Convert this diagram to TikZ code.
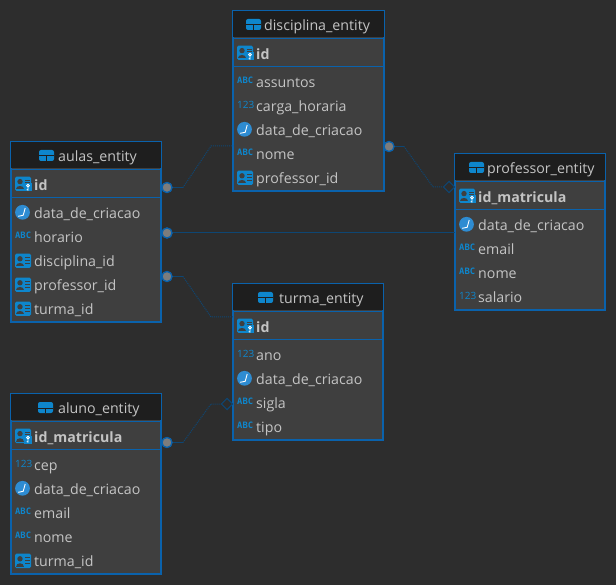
\documentclass[tikz,border=0pt]{standalone}
\usepackage{fontspec}
\setmainfont{Open Sans}
\newfontfamily\iconfont{DejaVu Sans Mono}
\usetikzlibrary{shapes.geometric,calc}
\definecolor{bgc}{HTML}{2D2D2D}
\definecolor{bodyc}{HTML}{3F3F3F}
\definecolor{headc}{HTML}{1E1E1E}
\definecolor{edgec}{HTML}{0A62AC}
\definecolor{linec}{HTML}{0E4673}
\definecolor{txtc}{HTML}{C4C4C4}
\definecolor{iconc}{HTML}{0E86CC}
\definecolor{clockc}{HTML}{2E8CD2}
\definecolor{dotc}{HTML}{7C7C7C}
\newcommand{\fontrow}{\fontsize{14.2}{16}\selectfont}
\tikzset{
  x=1pt,y=-1pt,
  entity/.style={draw=edgec,line width=2pt,fill=bodyc,anchor=north west,inner sep=0pt,outer sep=0pt},
  headbar/.style={fill=headc,anchor=north west,inner sep=0pt,outer sep=0pt},
  sepline/.style={edgec,line width=0.7pt},
  title/.style={text=txtc,font=\fontrow,anchor=base west,inner sep=0pt},
  fieldtext/.style={text=txtc,font=\fontrow,anchor=base west,inner sep=0pt},
  keytext/.style={text=txtc,font=\fontrow\bfseries,anchor=base west,inner sep=0pt},
  endpoint/.style={circle,fill=dotc,draw=edgec,line width=1.2pt,minimum size=10pt,inner sep=0pt},
  tip/.style={diamond,draw=linec,line width=1pt,fill=bgc,minimum size=11.5pt,aspect=1,inner sep=0pt},
  conn/.style={linec,line width=1pt,densely dotted},
  connsolid/.style={linec,line width=1pt},
  pics/tableicon/.style={code={
    \fill[iconc,rounded corners=2pt] (0,-6) rectangle (15,5);
    \draw[headc,line width=1pt] (0,0) -- (15,0) (7.5,0) -- (7.5,5);
  }},
  pics/cardicon/.style={code={
    \fill[iconc,rounded corners=1.5pt] (0,-7.3) rectangle (16,7);
    \fill[bodyc] (5,-2.2) circle (2.7);
    \fill[bodyc] (1.2,5.5) .. controls (1.2,0.8) and (8.8,0.8) .. (8.8,5.5) -- cycle;
    \draw[bodyc,line width=0.9pt] (10,-4) -- (14.5,-4) (10,-1) -- (14.5,-1) (10,2) -- (14.5,2);
  }},
  pics/keycardicon/.style={code={
    \fill[iconc,rounded corners=1.5pt] (0,-8.3) rectangle (16,6);
    \fill[bodyc] (5,-3.4) circle (2.7);
    \fill[bodyc] (1.2,4.5) .. controls (1.2,-0.2) and (8.8,-0.2) .. (8.8,4.5) -- cycle;
    \draw[bodyc,line width=0.9pt] (10,-5) -- (14.5,-5) (10,-2.5) -- (14.5,-2.5);
    \fill[iconc] (8.5,-1.5) rectangle (17,6.5);
    \draw[white,line width=0.8pt] (13,0.6) circle (1.4) (13,2) -- (13,5.6) (13,4.8) -- (11.6,4.8);
  }},
  pics/clockicon/.style={code={
    \fill[clockc] (7.5,-0.7) circle (7.4);
    \draw[white,line width=0.9pt] (10.2,-5) -- (8.2,2.3) -- (3.2,3.3);
  }},
  pics/abcicon/.style={code={
    \node[text=iconc,font=\iconfont\fontsize{8.8}{9}\selectfont\bfseries,inner sep=0pt,anchor=base west] at (0,1.7) {ABC};
  }},
  pics/numicon/.style={code={
    \node[text=iconc,font=\fontsize{10}{11}\selectfont,inner sep=0pt,anchor=base west] at (0,2.2) {123};
  }},
}
% entity: name, left, top, width, height, title, icon left, title left
\newcommand{\entitybox}[8]{%
  \node[entity,minimum width=#4pt,minimum height=#5pt] (#1) at (#2,#3) {};
  \node[headbar,minimum width=#4pt,minimum height=26pt] (#1head) at (#2,#3) {};
  \draw[sepline] (#2,#3+27) -- (#2+#4,#3+27) (#2,#3+55) -- (#2+#4,#3+55);
  \pic at (#7,#3+14) {tableicon};
  \node[title] (#1title) at (#8,#3+19.6) {#6};
}
% field: name, left, centre y, icon, style, text
\newcommand{\fieldrow}[6]{%
  \pic at (#2+4,#3) {#4};
  \node[#5] (#1) at (#2+23,#3+5.6) {#6};
}
\begin{document}
\begin{tikzpicture}
\useasboundingbox[fill=bgc] (0,0) rectangle (616,585);
% connector ends
\node[endpoint] (dotA) at (167,187.5) {};
\node[endpoint] (dotB) at (167,233) {};
\node[endpoint] (dotC) at (167,276.5) {};
\node[endpoint] (dotD) at (389,146.5) {};
\node[endpoint] (dotE) at (167,442.5) {};
\coordinate (a1) at (183,187.5); \coordinate (a2) at (211,146);
\coordinate (c1) at (183,276.5); \coordinate (c2) at (211,317);
\coordinate (d1) at (404,146.5); \coordinate (d2) at (433,187);
\coordinate (e1) at (183,442.5); \coordinate (e2) at (211,404);
\node[tip] (tipD) at (449,187) {};
\node[tip] (tipE) at (227,404) {};
% entities
\entitybox{disciplina}{233}{11}{151}{180}{disciplina\_entity}{246}{264}
\entitybox{aulas}{11}{142}{150}{180}{aulas\_entity}{39}{58}
\entitybox{professor}{455}{154}{150}{156}{professor\_entity}{469}{487}
\entitybox{turma}{233}{284}{150}{156}{turma\_entity}{258}{279}
\entitybox{aluno}{11}{394}{150}{180}{aluno\_entity}{38}{58}
% connectors
\draw[connsolid] (dotA) -- (a1);
\draw[conn] (a1) -- (a2) -- (a2 -| disciplina.west);
\draw[connsolid] (dotB) -- (dotB -| professor.west);
\draw[connsolid] (dotC) -- (c1);
\draw[conn] (c1) -- (c2) -- (c2 -| turma.west);
\draw[connsolid] (dotD) -- (d1);
\draw[conn] (d1) -- (d2) -- (tipD);
\draw[connsolid] (dotE) -- (e1);
\draw[conn] (e1) -- (e2) -- (tipE);
\node[endpoint] at (dotA) {};
\node[endpoint] at (dotB) {};
\node[endpoint] at (dotC) {};
\node[endpoint] at (dotD) {};
\node[endpoint] at (dotE) {};
\node[tip] at (tipD) {};
\node[tip] at (tipE) {};
% disciplina fields
\fieldrow{dId}{233}{54}{keycardicon}{keytext}{id}
\fieldrow{dAss}{233}{82}{abcicon}{fieldtext}{assuntos}
\fieldrow{dCar}{233}{106}{numicon}{fieldtext}{carga\_horaria}
\fieldrow{dDat}{233}{130}{clockicon}{fieldtext}{data\_de\_criacao}
\fieldrow{dNom}{233}{154}{abcicon}{fieldtext}{nome}
\fieldrow{dPro}{233}{178}{cardicon}{fieldtext}{professor\_id}
% aulas fields
\fieldrow{aId}{11}{185}{keycardicon}{keytext}{id}
\fieldrow{aDat}{11}{213}{clockicon}{fieldtext}{data\_de\_criacao}
\fieldrow{aHor}{11}{237}{abcicon}{fieldtext}{horario}
\fieldrow{aDis}{11}{261}{cardicon}{fieldtext}{disciplina\_id}
\fieldrow{aPro}{11}{285}{cardicon}{fieldtext}{professor\_id}
\fieldrow{aTur}{11}{309}{cardicon}{fieldtext}{turma\_id}
% professor fields
\fieldrow{pId}{455}{197}{keycardicon}{keytext}{id\_matricula}
\fieldrow{pDat}{455}{225}{clockicon}{fieldtext}{data\_de\_criacao}
\fieldrow{pEma}{455}{249}{abcicon}{fieldtext}{email}
\fieldrow{pNom}{455}{273}{abcicon}{fieldtext}{nome}
\fieldrow{pSal}{455}{297}{numicon}{fieldtext}{salario}
% turma fields
\fieldrow{tId}{233}{327}{keycardicon}{keytext}{id}
\fieldrow{tAno}{233}{355}{numicon}{fieldtext}{ano}
\fieldrow{tDat}{233}{379}{clockicon}{fieldtext}{data\_de\_criacao}
\fieldrow{tSig}{233}{403}{abcicon}{fieldtext}{sigla}
\fieldrow{tTip}{233}{427}{abcicon}{fieldtext}{tipo}
% aluno fields
\fieldrow{lId}{11}{437}{keycardicon}{keytext}{id\_matricula}
\fieldrow{lCep}{11}{465}{numicon}{fieldtext}{cep}
\fieldrow{lDat}{11}{489}{clockicon}{fieldtext}{data\_de\_criacao}
\fieldrow{lEma}{11}{513}{abcicon}{fieldtext}{email}
\fieldrow{lNom}{11}{537}{abcicon}{fieldtext}{nome}
\fieldrow{lTur}{11}{561}{cardicon}{fieldtext}{turma\_id}
\end{tikzpicture}
\end{document}
